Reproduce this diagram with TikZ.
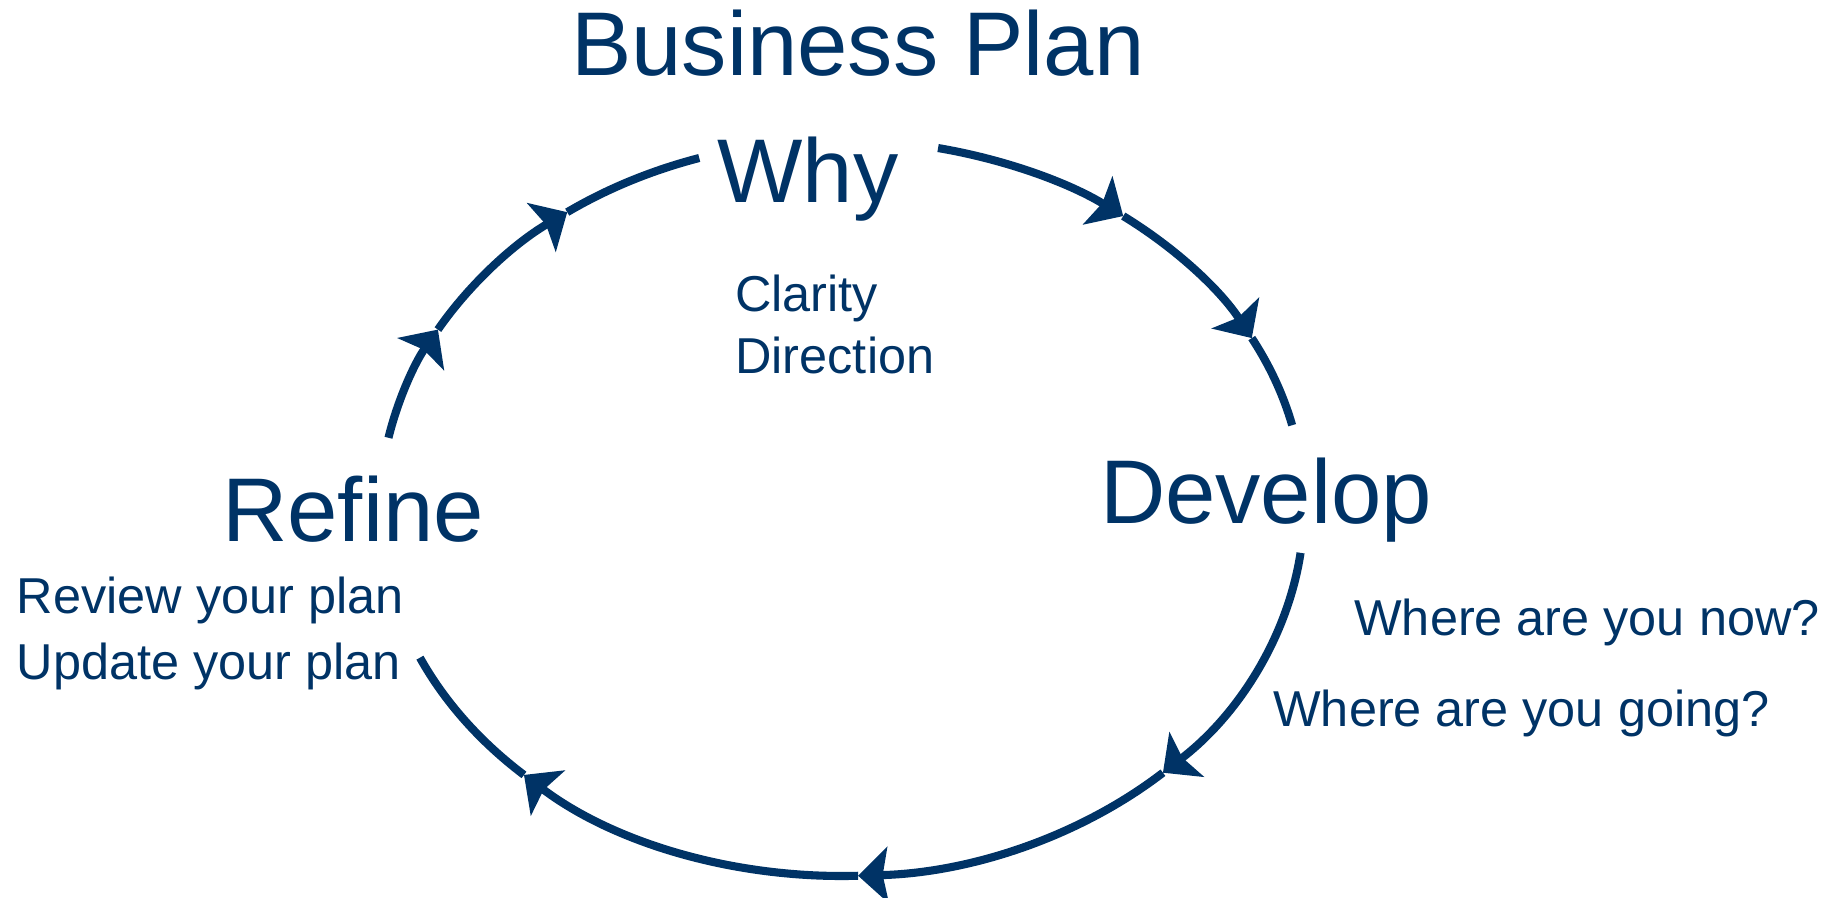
\documentclass[tikz,border=0pt]{standalone}
\usepackage{fontspec}
\setmainfont{Liberation Sans}
\usetikzlibrary{arrows.meta}
\definecolor{navy}{RGB}{0,51,102}
\begin{document}
\begin{tikzpicture}[x=0.02cm,y=0.02cm,
  big/.style={inner sep=0pt,text=navy,font=\fontsize{51.5}{60}\selectfont},
  small/.style={inner sep=0pt,text=navy,font=\fontsize{28.7}{34}\selectfont},
  ring/.style={draw=navy,line width=4.6pt},
  tip/.style={-{Stealth[length=17pt,width=32pt,inset=3pt]}},
  ell/.style={x radius=462,y radius=368}]
\useasboundingbox (0,0) rectangle (1843,897);
\coordinate (c) at (842,389);
\foreach \n/\a in {p1/78,p2/52.5,p3/27.5,p4/13,p5/-7,p6/-46,p7/-88,p8/-133.5,p9/-156,p10/169,p11/151,p12/126.5,p13/108}{
  \path (c) ++(\a:462 and 368) coordinate (\n);
}
\draw[ring,tip] (p1) arc[ell,start angle=78,end angle=52.5];
\draw[ring,tip] (p2) arc[ell,start angle=52.5,end angle=27.5];
\draw[ring] (p3) arc[ell,start angle=27.5,end angle=13];
\draw[ring,tip] (p5) arc[ell,start angle=-7,end angle=-46];
\draw[ring,tip] (p6) arc[ell,start angle=-46,end angle=-88];
\draw[ring,tip] (p7) arc[ell,start angle=-88,end angle=-133.5];
\draw[ring] (p8) arc[ell,start angle=-133.5,end angle=-156];
\draw[ring,tip] (p10) arc[ell,start angle=169,end angle=151];
\draw[ring,tip] (p11) arc[ell,start angle=151,end angle=126.5];
\draw[ring] (p12) arc[ell,start angle=126.5,end angle=108];

\node[big,anchor=base] (title) at (858,821) {Business Plan};
\node[big,anchor=base] (why) at (808,694) {Why};
\node[small,anchor=base west] (clarity) at (735,585.5) {Clarity};
\node[small,anchor=base west] (direction) at (735,523) {Direction};
\node[big,anchor=base] (refine) at (353,356) {Refine};
\node[small,anchor=base west] (review) at (16.5,283.5) {Review your plan};
\node[small,anchor=base west] (update) at (16.5,218) {Update your plan};
\node[big,anchor=base] (develop) at (1266,374) {Develop};
\node[small,anchor=base west] (now) at (1354,262) {Where are you now?};
\node[small,anchor=base west] (going) at (1273,171) {Where are you going?};
\end{tikzpicture}
\end{document}
